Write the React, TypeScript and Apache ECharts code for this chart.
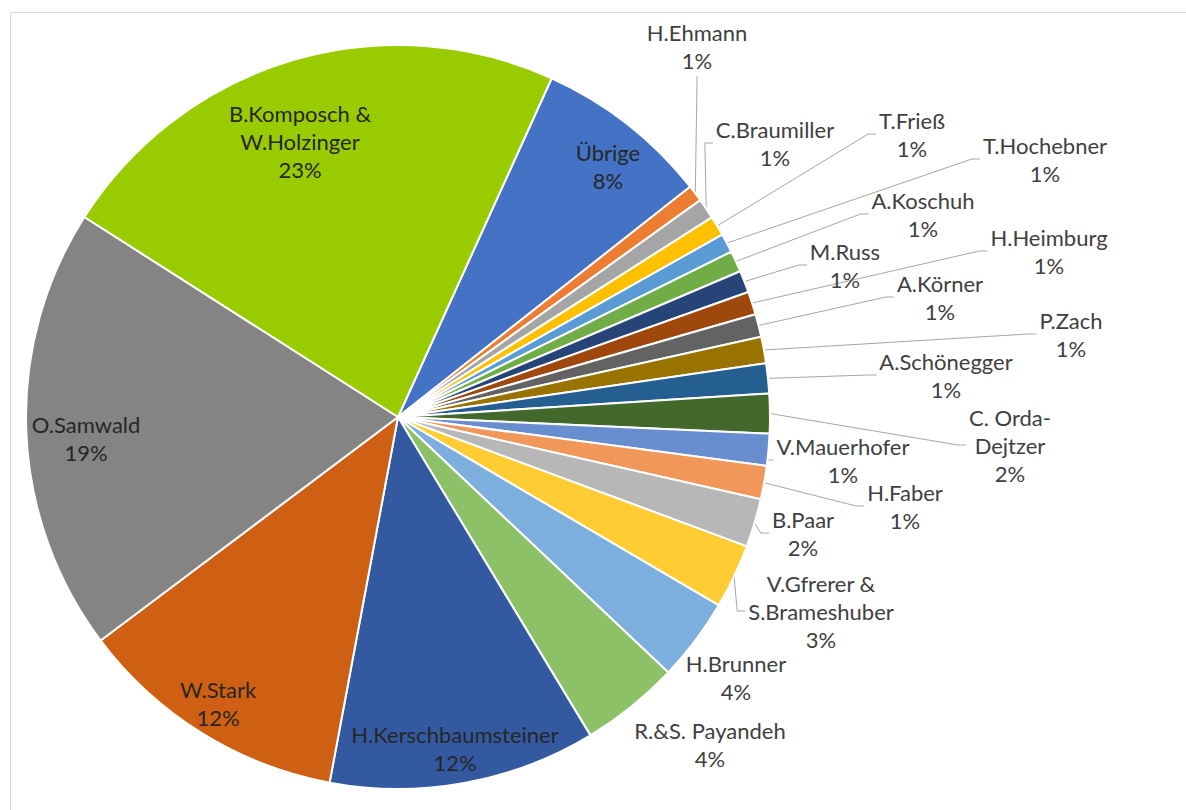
import React, { useEffect, useRef } from "react";
import * as echarts from "echarts";

// ---- data ----
const CATEGORIES = [
  "Übrige",
  "H.Ehmann",
  "C.Braumiller",
  "T.Frieß",
  "T.Hochebner",
  "A.Koschuh",
  "M.Russ",
  "H.Heimburg",
  "A.Körner",
  "P.Zach",
  "A.Schönegger",
  "C. Orda-Dejtzer",
  "V.Mauerhofer",
  "H.Faber",
  "B.Paar",
  "V.Gfrerer & S.Brameshuber",
  "H.Brunner",
  "R.&S. Payandeh",
  "H.Kerschbaumsteiner",
  "W.Stark",
  "O.Samwald",
  "B.Komposch & W.Holzinger",
];

// share in percent
const VALUES = [
  7.6, 0.72, 0.89, 0.86, 0.83, 0.92, 0.95, 1.0, 1.0, 1.15, 1.3, 1.72, 1.39,
  1.45, 2.1, 2.8, 3.6, 4.3, 11.6, 11.8, 19.3, 22.75,
];

// label text as broken in the chart
const LABEL_TEXT = [
  "Übrige",
  "H.Ehmann",
  "C.Braumiller",
  "T.Frieß",
  "T.Hochebner",
  "A.Koschuh",
  "M.Russ",
  "H.Heimburg",
  "A.Körner",
  "P.Zach",
  "A.Schönegger",
  "C. Orda-\nDejtzer",
  "V.Mauerhofer",
  "H.Faber",
  "B.Paar",
  "V.Gfrerer &\nS.Brameshuber",
  "H.Brunner",
  "R.&S. Payandeh",
  "H.Kerschbaumsteiner",
  "W.Stark",
  "O.Samwald",
  "B.Komposch &\nW.Holzinger",
];

const INSIDE_LABELS = [
  "Übrige",
  "H.Kerschbaumsteiner",
  "W.Stark",
  "O.Samwald",
  "B.Komposch & W.Holzinger",
];
const NO_LEADER = ["H.Brunner", "R.&S. Payandeh"];

// ---- styles / layout ----
const COLORS = [
  "#4472C4",
  "#ED7D31",
  "#A5A5A5",
  "#FFC000",
  "#5B9BD5",
  "#70AD47",
  "#264478",
  "#9E480E",
  "#636363",
  "#997300",
  "#255E91",
  "#43682B",
  "#698ED0",
  "#F1975A",
  "#B7B7B7",
  "#FFCD33",
  "#7CAFDD",
  "#8CC168",
  "#335AA1",
  "#CF5F12",
  "#848484",
  "#99CC00",
];

// label centres (label placement, not data)
const LABEL_POS: [number, number][] = [
  [608, 166],
  [697, 46],
  [775, 143],
  [912, 134],
  [1045, 159],
  [923, 214],
  [845, 265],
  [1049, 251],
  [940, 297],
  [1071, 334],
  [946, 375],
  [1010, 445],
  [843, 460],
  [905, 506],
  [803, 533],
  [821, 611],
  [736, 677],
  [710, 744],
  [455, 748],
  [218, 703],
  [86, 438],
  [300, 141],
];

const FONT = "Lato, 'Noto Sans', 'DejaVu Sans', sans-serif";

export default function App() {
  const ref = useRef<HTMLDivElement>(null);

  useEffect(() => {
    document.body.style.margin = "0";
    const chart = echarts.init(ref.current as HTMLDivElement, null, {
      renderer: "svg",
    });

    const data = CATEGORIES.map((name, i) => {
      const inside = INSIDE_LABELS.includes(name);
      return {
        name,
        value: VALUES[i],
        itemStyle: { color: COLORS[i] },
        label: {
          position: inside ? "inside" : "outside",
          color: inside ? "#262626" : "#404040",
        },
        labelLine: { show: !inside && !NO_LEADER.includes(name) },
      };
    });

    chart.setOption({
      animation: false,
      backgroundColor: "#ffffff",
      graphic: [
        {
          type: "rect",
          silent: true,
          z: -1,
          shape: { x: 10.5, y: 12.5, width: 1200, height: 820 },
          style: { fill: "none", stroke: "#d9d9d9", lineWidth: 1 },
        },
      ],
      series: [
        {
          type: "pie",
          center: [398, 417],
          radius: 372,
          startAngle: 65.6,
          clockwise: true,
          avoidLabelOverlap: false,
          data,
          itemStyle: { borderColor: "#ffffff", borderWidth: 2 },
          label: {
            formatter: (p: any) =>
              `${LABEL_TEXT[p.dataIndex]}\n${Math.round(p.percent)}%`,
            fontFamily: FONT,
            fontSize: 22,
            lineHeight: 28,
            align: "center",
          },
          labelLine: {
            length: 10,
            length2: 8,
            smooth: false,
            lineStyle: { color: "#a6a6a6", width: 1 },
          },
          labelLayout: (params: any) => {
            const i = params.dataIndex;
            const [x, y] = LABEL_POS[i];
            const r = params.labelRect;
            const out: any = { x, y, align: "center", verticalAlign: "middle" };
            const pts = params.labelLinePoints;
            if (pts && pts.length) {
              const start = pts[0];
              const w = r.width;
              const h = r.height;
              let end: number[];
              let mid: number[];
              if (start[0] > x - w / 2 && start[0] < x + w / 2) {
                if (start[1] > y) {
                  end = [x, y + h / 2 + 2];
                  mid = [x, end[1] + 8];
                } else {
                  end = [x, y - h / 2 - 2];
                  mid = [x, end[1] - 8];
                }
              } else if (x > start[0]) {
                end = [x - w / 2 - 3, y];
                mid = [end[0] - 8, y];
              } else {
                end = [x + w / 2 + 3, y];
                mid = [end[0] + 8, y];
              }
              out.labelLinePoints = [start, mid, end];
            }
            return out;
          },
        },
      ],
    });

    return () => chart.dispose();
  }, []);

  return <div ref={ref} style={{ width: 1186, height: 810 }} />;
}
